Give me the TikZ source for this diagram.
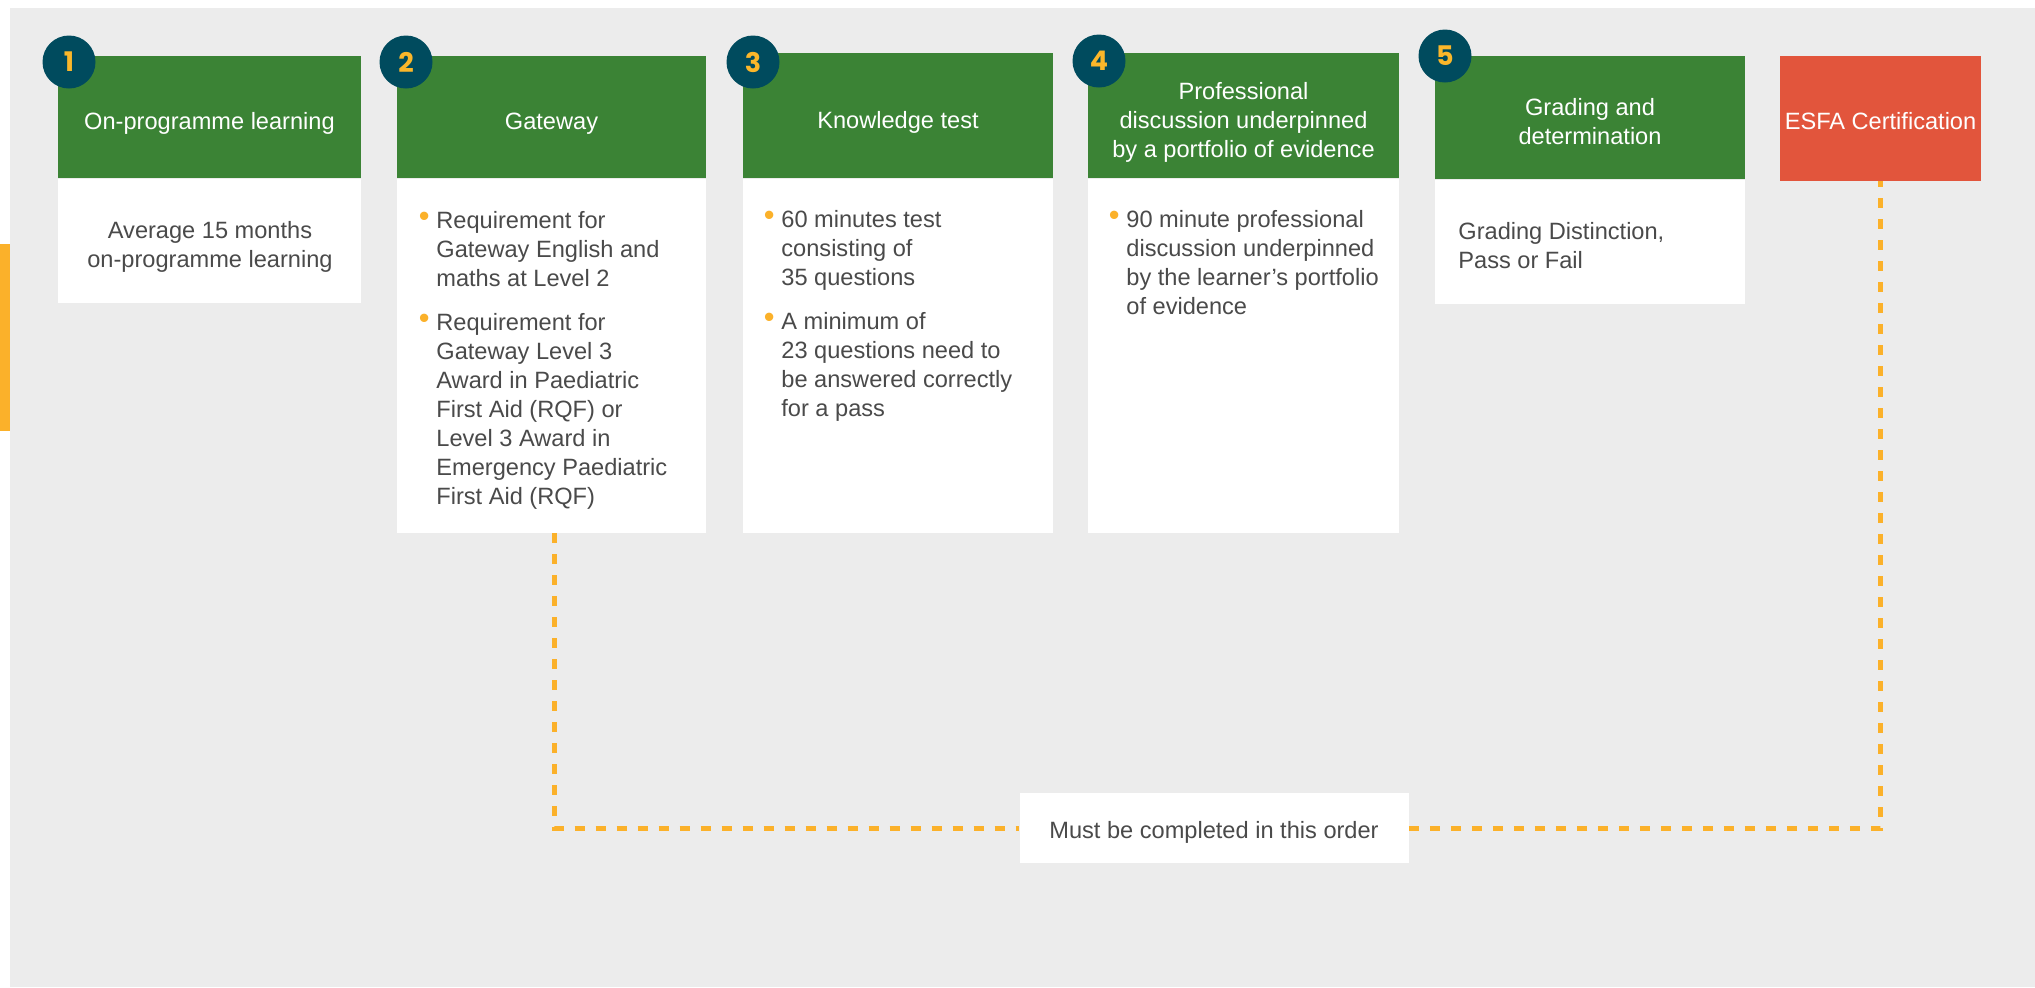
\documentclass[tikz,border=0pt]{standalone}
\usepackage{fontspec}
\setmainfont{Liberation Sans}
\newfontfamily\numfont{Poppins}
\usepackage{xcolor}
\usepackage{graphicx}
\usepackage{tikz}
\usetikzlibrary{positioning}
\definecolor{panelgrey}{RGB}{236,236,236}
\definecolor{headgreen}{RGB}{59,131,53}
\definecolor{certred}{RGB}{226,85,60}
\definecolor{numteal}{RGB}{0,75,94}
\definecolor{numyellow}{RGB}{251,183,42}
\definecolor{linkorange}{RGB}{251,177,42}
\definecolor{bodygrey}{RGB}{74,74,74}
\newcommand{\bul}{\makebox[0pt][r]{\raisebox{0.6pt}{\scalebox{1.3}{\textcolor{linkorange}{\textbullet}}}\hspace{3.4pt}}}
\newcommand{\headtxt}[2][3.5pt]{\raisebox{-#1}[\height][\depth]{\begin{tabular}{@{}c@{}}#2\end{tabular}}}
\tikzset{stephead/.style={fill=headgreen, text=white, inner sep=0pt, font=\fontsize{11.8}{14.5}\selectfont}}
\tikzset{stepbody/.style={fill=white, inner sep=0pt}}
\tikzset{bodytext/.style={text=bodygrey, inner sep=0pt, font=\fontsize{11.8}{14.5}\selectfont}}
\tikzset{stepnum/.style={circle, fill=numteal, text=numyellow, inner sep=0pt, minimum size=26.5pt, font=\numfont\bfseries\fontsize{13.5}{13.5}\selectfont}}
\tikzset{orderline/.style={draw=linkorange, line width=2.5pt, dash pattern=on 5pt off 5.5pt}}

\begin{document}
\begin{tikzpicture}[x=0.5pt,y=-0.5pt]
    \useasboundingbox (0,0) rectangle (2035,987);
    \fill[white] (0,0) rectangle (2035,987);
    \fill[panelgrey] (10,8) rectangle (2035,987);
    \fill[linkorange] (0,244) rectangle (10,431);

    \foreach \x/\y/\w/\h/\lab/\tx in {
      209.5/117/303/122/h1/On-programme learning,
      551.5/117/309/122/h2/Gateway,
      898/115.5/310/125/h3/Knowledge test,
      1243.5/115.5/311/125/h4/Professional\\discussion underpinned\\by a portfolio of evidence,
      1590/117.5/310/123/h5/Grading and\\determination%
    } {
      \node[stephead, minimum width=\w*0.5pt, minimum height=\h*0.5pt] (\lab) at (\x, \y) {\headtxt{\tx}};
    }
    \node[stephead, fill=certred, minimum width=100.5pt, minimum height=62.5pt] (esfa) at (1880.5, 118.5) {\headtxt[2.5pt]{ESFA Certification}};

    \foreach \hd/\lab/\w/\h in {
      h1/b1/303/124,
      h2/b2/309/354,
      h3/b3/310/354,
      h4/b4/311/354,
      h5/b5/310/124%
    } {
      \node[stepbody, anchor=north, minimum width=\w*0.5pt, minimum height=\h*0.5pt] (\lab) at (\hd.south) {};
    }

    \foreach \x/\y/\lab/\tx in {
      69/62/n1/1,
      406/62/n2/2,
      753/62/n3/3,
      1099/61/n4/4,
      1445/56/n5/5%
    } {
      \node[stepnum] (\lab) at (\x, \y) {\tx};
    }

    \node[bodytext, anchor=base] (t1) at (210, 238) {\begin{tabular}[t]{@{}c@{}}Average 15 months\\on-programme learning\end{tabular}};
    \node[bodytext, anchor=base west] (t2) at (436, 228) {\begin{tabular}[t]{@{}l@{}}
      \bul Requirement for\\
      Gateway English and\\
      maths at Level 2\\[7.5pt]
      \bul Requirement for\\
      Gateway Level 3\\
      Award in Paediatric\\
      First Aid (RQF) or\\
      Level 3 Award in\\
      Emergency Paediatric\\
      First Aid (RQF)
    \end{tabular}};
    \node[bodytext, anchor=base west] (t3) at (781, 227) {\begin{tabular}[t]{@{}l@{}}
      \bul 60 minutes test\\
      consisting of\\
      35 questions\\[7.5pt]
      \bul A minimum of\\
      23 questions need to\\
      be answered correctly\\
      for a pass
    \end{tabular}};
    \node[bodytext, anchor=base west] (t4) at (1126, 227) {\begin{tabular}[t]{@{}l@{}}
      \bul 90 minute professional\\
      discussion underpinned\\
      by the learner’s portfolio\\
      of evidence
    \end{tabular}};
    \node[bodytext, anchor=base west] (t5) at (1458, 239) {\begin{tabular}[t]{@{}l@{}}Grading Distinction,\\Pass or Fail\end{tabular}};

    \node[stepbody, bodytext, fill=white, minimum width=194.5pt, minimum height=35pt] (note) at (1214, 828) {\headtxt[2.5pt]{Must be completed in this order}};
    \draw[orderline] ([xshift=1.5pt]b2.south) |- (note.west);
    \draw[orderline] (note.east) -| (esfa.south);
\end{tikzpicture}
\end{document}
